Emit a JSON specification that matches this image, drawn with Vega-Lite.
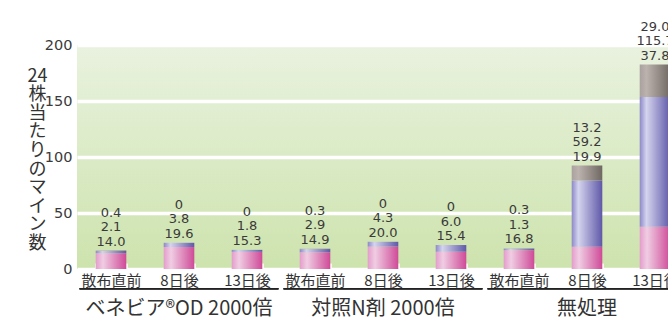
{
  "$schema": "https://vega.github.io/schema/vega-lite/v6.json",
  "autosize": "none",
  "width": 591,
  "height": 224,
  "padding": {"left": 77, "top": 45, "right": 0, "bottom": 54},
  "background": "white",
  "config": {
    "font": "Noto Sans CJK JP",
    "view": {
      "stroke": null,
      "fill": {"gradient": "linear", "x1": 0, "y1": 0, "x2": 0, "y2": 1,
        "stops": [{"offset": 0, "color": "#e9f2df"}, {"offset": 1, "color": "#cde3ad"}]}
    }
  },
  "data": {
    "values": [
      {"group": "ベネビア®OD 2000倍", "time": "散布直前", "pink": 14.0, "blue": 2.1, "gray": 0.4},
      {"group": "ベネビア®OD 2000倍", "time": "8日後", "pink": 19.6, "blue": 3.8, "gray": 0},
      {"group": "ベネビア®OD 2000倍", "time": "13日後", "pink": 15.3, "blue": 1.8, "gray": 0},
      {"group": "対照N剤 2000倍", "time": "散布直前", "pink": 14.9, "blue": 2.9, "gray": 0.3},
      {"group": "対照N剤 2000倍", "time": "8日後", "pink": 20.0, "blue": 4.3, "gray": 0},
      {"group": "対照N剤 2000倍", "time": "13日後", "pink": 15.4, "blue": 6.0, "gray": 0},
      {"group": "無処理", "time": "散布直前", "pink": 16.8, "blue": 1.3, "gray": 0.3},
      {"group": "無処理", "time": "8日後", "pink": 19.9, "blue": 59.2, "gray": 13.2},
      {"group": "無処理", "time": "13日後", "pink": 37.8, "blue": 115.7, "gray": 29.0}
    ]
  },
  "transform": [{"calculate": "datum.group + '|' + datum.time", "as": "key"}],
  "layer": [
    {
      "layer": [
        {
          "transform": [
            {"fold": ["pink", "blue", "gray"], "as": ["seg", "value"]},
            {"calculate": "indexof(['pink','blue','gray'], datum.seg)", "as": "ord"},
            {"stack": "value", "groupby": ["key"], "sort": [{"field": "ord"}], "as": ["v0", "v1"]}
          ],
          "mark": {"type": "bar"},
          "encoding": {
            "x": {
              "field": "key", "type": "nominal", "sort": null,
              "scale": {"range": [0, 612], "paddingInner": 0.55, "paddingOuter": 0.275},
              "axis": {
                "title": null, "domain": false, "labelAngle": 0,
                "labelExpr": "split(datum.label,'|')[1]",
                "labelFontSize": 15, "labelColor": "#333", "labelPadding": 10,
                "tickBand": "extent", "tickColor": "white", "tickWidth": 2.5,
                "tickSize": -6
              }
            },
            "y": {
              "field": "v0", "type": "quantitative",
              "scale": {"domain": [0, 200], "nice": false},
              "axis": {
                "values": [0, 50, 100, 150, 200], "domain": false, "ticks": false,
                "labelFont": "DejaVu Sans", "labelFontSize": 14.5, "labelColor": "#3a3a3a", "labelPadding": 5,
                "gridColor": "white", "gridWidth": 3.5,
                "title": ["24", "株", "当", "た", "り", "の", "マ", "イ", "ン", "数"],
                "titleAngle": 0, "titleFontSize": 18, "titleFontWeight": "normal", "titleColor": "#333",
                "titleLineHeight": 18.6, "titleX": -40, "titleY": 31,
                "titleAlign": "center", "titleBaseline": "middle"
              }
            },
            "y2": {"field": "v1"},
            "fill": {
              "condition": [
                {"test": "datum.seg==='pink'", "value": {"gradient": "linear", "x1": 0, "y1": 0, "x2": 1, "y2": 0,
                  "stops": [{"offset": 0, "color": "#e39ccb"}, {"offset": 0.24, "color": "#f0cde3"}, {"offset": 1, "color": "#cf4a97"}]}},
                {"test": "datum.seg==='blue'", "value": {"gradient": "linear", "x1": 0, "y1": 0, "x2": 1, "y2": 0,
                  "stops": [{"offset": 0, "color": "#8c88c8"}, {"offset": 0.22, "color": "#d4d4ee"}, {"offset": 1, "color": "#5f58a8"}]}}
              ],
              "value": {"gradient": "linear", "x1": 0, "y1": 0, "x2": 1, "y2": 0,
                "stops": [{"offset": 0, "color": "#a9a19d"}, {"offset": 0.22, "color": "#bcb3af"}, {"offset": 1, "color": "#6f6761"}]}
            }
          }
        },
        {
          "transform": [
            {"calculate": "datum.pink + datum.blue + datum.gray", "as": "total"},
            {"calculate": "[datum.gray===0?'0':format(datum.gray,'.1f'), datum.blue===0?'0':format(datum.blue,'.1f'), datum.pink===0?'0':format(datum.pink,'.1f')]", "as": "lbl"}
          ],
          "mark": {"type": "text", "baseline": "bottom", "font": "DejaVu Sans", "fontSize": 13, "lineHeight": 14.5, "color": "#3a3a3a", "dy": -31},
          "encoding": {
            "x": {"field": "key", "type": "nominal", "sort": null},
            "y": {"field": "total", "type": "quantitative"},
            "text": {"field": "lbl"}
          }
        }
      ]
    },
    {
      "mark": {"type": "bar", "color": "#222222", "clip": false},
      "encoding": {
        "x": {
          "field": "group", "type": "nominal", "sort": null,
          "scale": {"range": [0, 612], "paddingInner": 0.025, "paddingOuter": 0.0125},
          "axis": {
            "orient": "bottom", "offset": 20, "title": null, "ticks": false, "domain": false,
            "labelAngle": 0, "labelFontSize": 20, "labelColor": "#333", "labelPadding": 9, "labelLimit": 400
          }
        },
        "y": {"datum": -17.0, "type": "quantitative"},
        "y2": {"datum": -18.3}
      }
    }
  ],
  "resolve": {"scale": {"x": "independent"}, "axis": {"x": "independent"}}
}
